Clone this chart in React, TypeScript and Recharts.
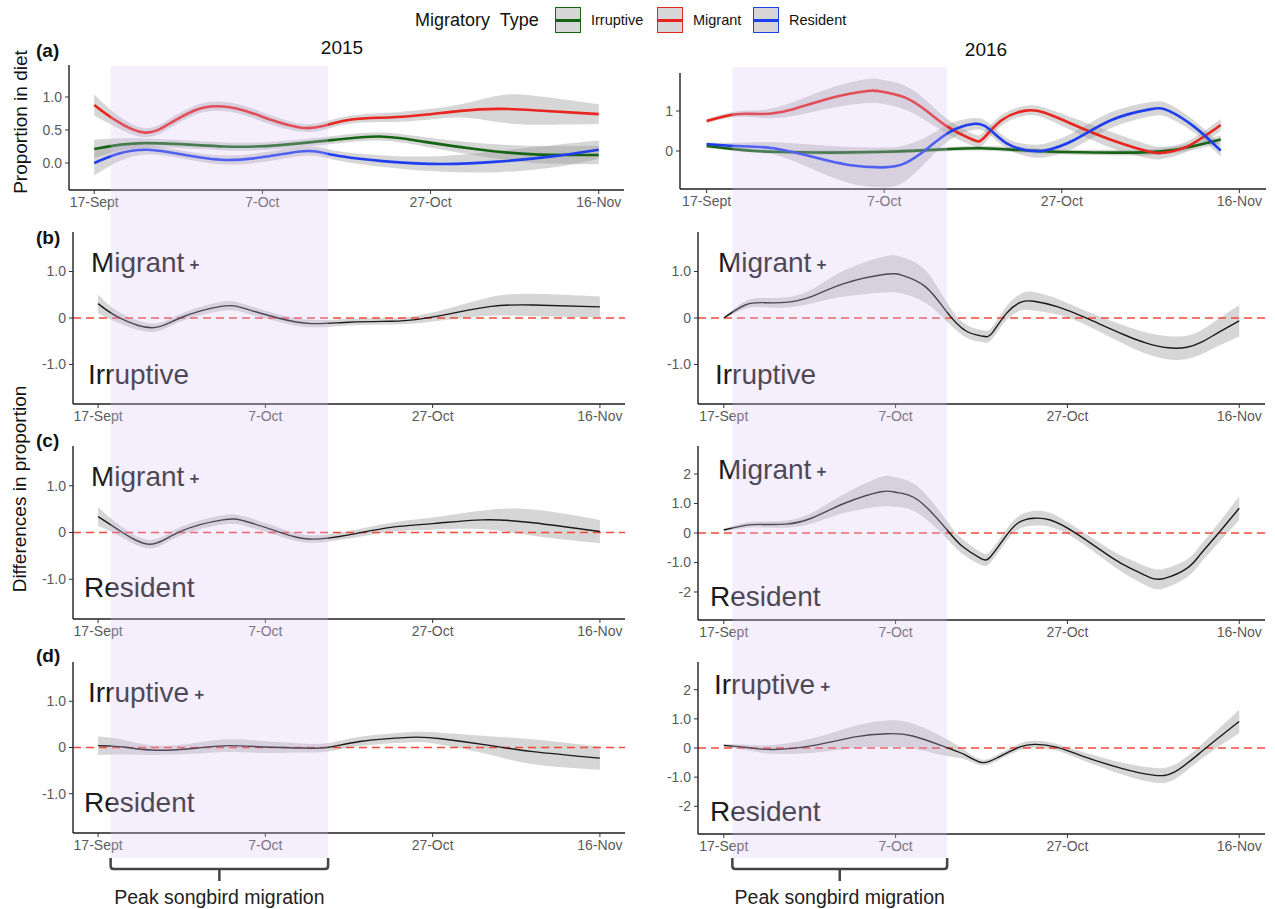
import { ComposedChart, Line, Area, XAxis, YAxis, ReferenceLine, ReferenceArea } from 'recharts';

const FONT = '"Liberation Sans", Arial, Helvetica, sans-serif';

// x axis = days after 17 Sept
const dateTicks = [0, 20, 40, 60];
const dateLabels = ['17-Sept', '7-Oct', '27-Oct', '16-Nov'];
const xDomain: [number, number] = [-3, 63];

const typeNames = ['Irruptive', 'Migrant', 'Resident'];
const typeColors = ['#146414', '#e8261f', '#1f3ef0'];

// peak songbird migration window (days)
const peak2015 = [1.5, 27.5];
const peak2016 = [1, 26];

// ---- (a) proportion in diet, 2015
const irr15Days = [0, 6, 15.5, 22, 28.5, 34, 39.3, 46, 52.3, 60];
const irr15Fit = [0.21, 0.3, 0.25, 0.27, 0.35, 0.4, 0.32, 0.2, 0.13, 0.12];
const irr15Ci = [0.14, 0.07, 0.06, 0.06, 0.06, 0.06, 0.07, 0.1, 0.13, 0.14];
const mig15Days = [0, 2.5, 6, 9, 12, 14.6, 17.7, 21.1, 24.6, 27.2, 30.6, 35, 39.3, 43.6, 48, 52.3, 60];
const mig15Fit = [0.88, 0.65, 0.46, 0.6, 0.8, 0.86, 0.8, 0.65, 0.535, 0.56, 0.66, 0.69, 0.73, 0.79, 0.82, 0.8, 0.74];
const mig15Ci = [0.16, 0.1, 0.07, 0.07, 0.07, 0.07, 0.07, 0.07, 0.06, 0.06, 0.06, 0.07, 0.08, 0.1, 0.2, 0.22, 0.15];
const res15Days = [0, 6.4, 15.5, 24.2, 28.5, 35, 41.5, 48, 54.5, 60];
const res15Fit = [0.0, 0.2, 0.045, 0.17, 0.12, 0.02, -0.015, 0.02, 0.1, 0.2];
const res15Ci = [0.19, 0.07, 0.07, 0.07, 0.07, 0.09, 0.12, 0.16, 0.17, 0.14];

// ---- (a) proportion in diet, 2016
const irr16Days = [0, 3.3, 7.5, 14, 20.2, 26.6, 30.9, 35.1, 39.4, 45.6, 52, 57.9];
const irr16Fit = [0.125, 0.04, -0.02, -0.04, -0.02, 0.04, 0.07, 0.025, -0.02, -0.04, 0.01, 0.29];
const irr16Ci = [0.05, 0.04, 0.05, 0.05, 0.05, 0.05, 0.06, 0.06, 0.06, 0.07, 0.08, 0.1];
const mig16Days = [0, 3.3, 6.3, 9.6, 13.9, 18.1, 19.8, 22.3, 24.9, 27.4, 30, 31.2, 33.3, 35.9, 38, 41.4, 45.6, 49.9, 51.5, 54.1, 57.9];
const mig16Fit = [0.75, 0.92, 0.925, 1.04, 1.32, 1.5, 1.48, 1.34, 0.98, 0.57, 0.28, 0.32, 0.78, 1.01, 0.96, 0.65, 0.275, -0.02, -0.04, 0.11, 0.65];
const mig16Ci = [0.05, 0.07, 0.1, 0.17, 0.25, 0.3, 0.3, 0.3, 0.25, 0.18, 0.15, 0.15, 0.13, 0.12, 0.13, 0.17, 0.2, 0.17, 0.15, 0.13, 0.15];
const res16Days = [0, 3.3, 7.5, 11.8, 16, 19.8, 22.3, 24.9, 27.4, 30, 31.7, 33.8, 35.9, 38, 41.4, 45.6, 49.9, 52, 54.9, 57.9];
const res16Fit = [0.175, 0.125, 0.07, -0.14, -0.35, -0.41, -0.31, 0.07, 0.48, 0.675, 0.57, 0.19, 0.025, 0.01, 0.275, 0.775, 1.04, 1.01, 0.61, 0.01];
const res16Ci = [0.04, 0.08, 0.15, 0.3, 0.45, 0.5, 0.45, 0.3, 0.2, 0.15, 0.14, 0.13, 0.15, 0.17, 0.2, 0.2, 0.18, 0.17, 0.15, 0.15];

// ---- (b) Migrant - Irruptive
const bDays15 = [0, 2.4, 6.4, 9.8, 14.7, 17.6, 21.5, 25.5, 30, 35, 38, 42, 47, 52, 60];
const bFit15 = [0.31, 0.02, -0.21, 0, 0.25, 0.2, 0, -0.12, -0.09, -0.07, -0.035, 0.09, 0.25, 0.28, 0.24];
const bCi15 = [0.2, 0.12, 0.09, 0.08, 0.1, 0.09, 0.08, 0.08, 0.07, 0.07, 0.08, 0.12, 0.2, 0.24, 0.22];
const bDays16 = [0, 2.5, 4.6, 7.2, 10.2, 14, 18.8, 20.9, 23.5, 26, 28.2, 30.1, 31.2, 32.9, 34.6, 36.1, 38.9, 42.3, 46.6, 49.2, 51.7, 53.9, 55.6, 57.5, 60];
const bFit16 = [0, 0.28, 0.33, 0.335, 0.46, 0.74, 0.94, 0.91, 0.67, 0.12, -0.28, -0.39, -0.33, 0.1, 0.34, 0.36, 0.24, -0.01, -0.36, -0.54, -0.64, -0.63, -0.52, -0.32, -0.06];
const bCi16 = [0.02, 0.08, 0.1, 0.11, 0.15, 0.28, 0.39, 0.39, 0.35, 0.2, 0.14, 0.13, 0.13, 0.15, 0.18, 0.2, 0.17, 0.15, 0.2, 0.23, 0.25, 0.25, 0.26, 0.29, 0.34];

// ---- (c) Migrant - Resident
const cDays15 = [0, 2.4, 6.1, 9.8, 14.9, 17.6, 21.5, 25.2, 30, 35, 40, 46, 52, 60];
const cFit15 = [0.34, 0.06, -0.25, 0.02, 0.27, 0.24, 0.02, -0.14, -0.05, 0.11, 0.19, 0.27, 0.21, 0.02];
const cCi15 = [0.2, 0.12, 0.09, 0.09, 0.1, 0.1, 0.09, 0.08, 0.08, 0.1, 0.13, 0.2, 0.28, 0.25];
const cDays16 = [0, 2.5, 4.6, 7.2, 10.2, 14, 18.3, 20, 22.6, 26, 27.8, 29.9, 31, 32.5, 34.2, 36.1, 38, 41, 45.3, 47.5, 49.6, 51.3, 53.9, 55.4, 56.9, 60];
const cFit16 = [0.1, 0.26, 0.29, 0.3, 0.5, 1.0, 1.4, 1.38, 1.12, 0.1, -0.46, -0.86, -0.82, -0.24, 0.33, 0.5, 0.44, -0.01, -0.86, -1.22, -1.51, -1.54, -1.2, -0.75, -0.24, 0.84];
const cCi16 = [0.05, 0.09, 0.1, 0.12, 0.18, 0.32, 0.5, 0.5, 0.45, 0.3, 0.25, 0.22, 0.2, 0.2, 0.22, 0.25, 0.24, 0.2, 0.25, 0.3, 0.33, 0.33, 0.3, 0.3, 0.32, 0.4];

// ---- (d) Irruptive - Resident
const dDays15 = [0, 3, 7, 12, 15.7, 20, 24, 27.4, 31.3, 37.2, 41, 47, 52, 60];
const dFit15 = [0.04, 0.01, -0.06, -0.01, 0.04, 0.01, -0.01, 0, 0.13, 0.22, 0.19, 0.04, -0.09, -0.23];
const dCi15 = [0.2, 0.16, 0.1, 0.12, 0.14, 0.13, 0.1, 0.09, 0.1, 0.11, 0.13, 0.2, 0.27, 0.25];
const dDays16 = [0, 2.9, 5.7, 10.5, 15.3, 19, 22, 25.8, 28.2, 30.1, 32, 34.4, 36.3, 38.7, 41.5, 46.3, 50, 52.5, 55.8, 60];
const dFit16 = [0.09, 0.01, -0.05, 0.09, 0.38, 0.49, 0.41, 0.03, -0.25, -0.5, -0.31, 0.03, 0.125, 0.03, -0.25, -0.7, -0.93, -0.82, -0.08, 0.91];
const dCi16 = [0.05, 0.1, 0.15, 0.25, 0.38, 0.45, 0.43, 0.3, 0.15, 0.1, 0.1, 0.12, 0.12, 0.12, 0.14, 0.2, 0.25, 0.25, 0.25, 0.4];

type Pt = { day: number; fit: number; band: [number, number] };

const smooth = (days: number[], fit: number[], ci: number[]): Pt[] =>
  days.map((d, i) => ({ day: d, fit: fit[i], band: [fit[i] - ci[i], fit[i] + ci[i]] }));

type Series = { data: Pt[]; color: string; width: number };

type PanelProps = {
  x: number;
  y: number;
  w: number;
  h: number;
  yDomain: [number, number];
  yTicks: number[];
  yLabels: string[];
  series: Series[];
  zeroLine?: boolean;
};

const YW = 50;
const XH = 30;
const PAD = 6;
const CURVE = 'natural';

function Panel({ x, y, w, h, yDomain, yTicks, yLabels, series, zeroLine }: PanelProps) {
  return (
    <div style={{ position: 'absolute', left: x - YW, top: y - PAD }}>
      <ComposedChart
        width={w + YW + PAD}
        height={h + PAD + XH}
        margin={{ top: PAD, right: PAD, bottom: 0, left: 0 }}
      >
        <XAxis
          type="number"
          dataKey="day"
          domain={xDomain}
          ticks={dateTicks}
          interval={0}
          allowDataOverflow
          height={XH}
          tickFormatter={(v) => dateLabels[dateTicks.indexOf(v)]}
          axisLine={{ stroke: '#1e1e1e', strokeWidth: 1.4 }}
          tickLine={{ stroke: '#333' }}
          tickSize={4}
          tickMargin={3}
          tick={{ fill: '#5a5a5a', fontSize: 14, fontFamily: FONT }}
        />
        <YAxis
          type="number"
          domain={yDomain}
          ticks={yTicks}
          interval={0}
          allowDataOverflow
          width={YW}
          tickFormatter={(v) => yLabels[yTicks.indexOf(v)]}
          axisLine={{ stroke: '#1e1e1e', strokeWidth: 1.4 }}
          tickLine={{ stroke: '#333' }}
          tickSize={4}
          tickMargin={3}
          tick={{ fill: '#5a5a5a', fontSize: 14, fontFamily: FONT }}
        />
        {series.map((s, i) => (
          <Area
            key={'band' + i}
            data={s.data}
            dataKey="band"
            type={CURVE}
            stroke="none"
            fill="#999999"
            fillOpacity={0.4}
            isAnimationActive={false}
          />
        ))}
        {zeroLine && <ReferenceLine y={0} stroke="#f5473b" strokeDasharray="8 5" strokeWidth={1.6} />}
        {series.map((s, i) => (
          <Line
            key={'fit' + i}
            data={s.data}
            dataKey="fit"
            type={CURVE}
            stroke={s.color}
            strokeWidth={s.width}
            dot={false}
            activeDot={false}
            isAnimationActive={false}
          />
        ))}
      </ComposedChart>
    </div>
  );
}

function Bracket(props: any) {
  const vb = props.viewBox;
  if (!vb) return null;
  const { x, y, width, height } = vb;
  const b = y + height;
  const mid = x + width / 2;
  const r = x + width;
  return (
    <g>
      <path
        d={`M${x},${b} L${x},${b + 8} Q${x},${b + 11} ${x + 3},${b + 11} L${r - 3},${b + 11} Q${r},${b + 11} ${r},${b + 8} L${r},${b}`}
        fill="none"
        stroke="#444"
        strokeWidth={2.5}
      />
      <path d={`M${mid},${b + 11} L${mid},${b + 23}`} stroke="#444" strokeWidth={2.5} />
      <text x={mid} y={b + 39} textAnchor="middle" dominantBaseline="central" fontSize={19.5} fontFamily={FONT} fill="#222">
        Peak songbird migration
      </text>
    </g>
  );
}

// lavender band laid over the whole column, like the original figure
function PeakOverlay({ x, w, top, bottom, window }: { x: number; w: number; top: number; bottom: number; window: number[] }) {
  const height = 909 - top;
  return (
    <div style={{ position: 'absolute', left: x, top, pointerEvents: 'none' }}>
      <ComposedChart
        width={w}
        height={height}
        data={dateTicks.map((d) => ({ day: d, v: 0.5 }))}
        margin={{ top: 0, right: 0, left: 0, bottom: height - (bottom - top) }}
      >
        <XAxis type="number" dataKey="day" domain={xDomain} hide allowDataOverflow />
        <YAxis type="number" domain={[0, 1]} hide allowDataOverflow />
        <Line dataKey="v" stroke="none" dot={false} activeDot={false} isAnimationActive={false} />
        <ReferenceArea
          x1={window[0]}
          x2={window[1]}
          y1={0}
          y2={1}
          fill="#d8c2f7"
          fillOpacity={0.27}
          stroke="none"
          ifOverflow="visible"
          label={<Bracket />}
        />
      </ComposedChart>
    </div>
  );
}

function Note({ x, y, text, plus }: { x: number; y: number; text: string; plus?: boolean }) {
  return (
    <div
      style={{
        position: 'absolute',
        left: x,
        top: y - 14,
        fontSize: 28,
        lineHeight: '28px',
        color: '#1a1a1a',
        whiteSpace: 'nowrap',
      }}
    >
      {text}
      {plus && <span style={{ fontSize: 17, fontWeight: 'bold', marginLeft: 5, verticalAlign: 'middle' }}>+</span>}
    </div>
  );
}

function Txt({ x, y, size, children, bold, anchor }: any) {
  return (
    <div
      style={{
        position: 'absolute',
        left: x,
        top: y - size / 2,
        fontSize: size,
        lineHeight: size + 'px',
        fontWeight: bold ? 'bold' : 'normal',
        color: '#111',
        whiteSpace: 'pre',
        transform: anchor === 'middle' ? 'translateX(-50%)' : undefined,
      }}
    >
      {children}
    </div>
  );
}

function VText({ x, y, children }: any) {
  return (
    <div
      style={{
        position: 'absolute',
        left: x,
        top: y,
        fontSize: 19,
        lineHeight: '19px',
        color: '#111',
        whiteSpace: 'nowrap',
        transform: 'translate(-50%, -50%) rotate(-90deg)',
      }}
    >
      {children}
    </div>
  );
}

const legendX = [555, 657, 753];

export default function App() {
  const a15: Series[] = [
    { data: smooth(irr15Days, irr15Fit, irr15Ci), color: typeColors[0], width: 2.6 },
    { data: smooth(mig15Days, mig15Fit, mig15Ci), color: typeColors[1], width: 2.6 },
    { data: smooth(res15Days, res15Fit, res15Ci), color: typeColors[2], width: 2.6 },
  ];
  const a16: Series[] = [
    { data: smooth(irr16Days, irr16Fit, irr16Ci), color: typeColors[0], width: 2.6 },
    { data: smooth(mig16Days, mig16Fit, mig16Ci), color: typeColors[1], width: 2.6 },
    { data: smooth(res16Days, res16Fit, res16Ci), color: typeColors[2], width: 2.6 },
  ];
  const diff = (d: number[], f: number[], c: number[]): Series[] => [{ data: smooth(d, f, c), color: '#1a1a1a', width: 1.4 }];

  const smallTicks = [-1, 0, 1];
  const smallLabels = ['-1.0', '0', '1.0'];
  const bigTicks = [-2, -1, 0, 1, 2];
  const bigLabels = ['-2', '-1.0', '0', '1.0', '2'];

  return (
    <div
      style={{
        position: 'absolute',
        left: 0,
        top: 0,
        width: 1275,
        height: 909,
        background: '#fff',
        overflow: 'hidden',
        fontFamily: FONT,
      }}
    >
      {/* legend */}
      <Txt x={415} y={20} size={18}>{'Migratory  Type'}</Txt>
      {typeNames.map((n, i) => (
        <div key={n}>
          <div
            style={{
              position: 'absolute',
              left: legendX[i],
              top: 7,
              width: 24,
              height: 24,
              background: '#d6d6d6',
              border: `1.5px solid ${typeColors[i]}`,
            }}
          >
            <div style={{ position: 'absolute', left: 0, right: 0, top: 10.5, height: 3, background: typeColors[i] }} />
          </div>
          <Txt x={legendX[i] + 36} y={20} size={14.5}>{n}</Txt>
        </div>
      ))}

      <Txt x={342} y={47} size={19} anchor="middle">2015</Txt>
      <Txt x={986} y={49} size={19} anchor="middle">2016</Txt>
      <Txt x={36} y={50} size={19} bold>(a)</Txt>
      <Txt x={36} y={237} size={19} bold>(b)</Txt>
      <Txt x={36} y={440} size={19} bold>(c)</Txt>
      <Txt x={36} y={655} size={19} bold>(d)</Txt>
      <VText x={20} y={122}>Proportion in diet</VText>
      <VText x={19} y={489}>Differences in proportion</VText>

      {/* (a) */}
      <Panel x={69} y={65} w={555} h={125} yDomain={[-0.41, 1.485]} yTicks={[0, 0.5, 1]} yLabels={['0.0', '0.5', '1.0']} series={a15} />
      <Panel x={680} y={73} w={586} h={116} yDomain={[-0.95, 1.95]} yTicks={[0, 1]} yLabels={['0', '1']} series={a16} />

      {/* (b) */}
      <Panel x={73} y={232} w={552} h={172} yDomain={[-1.85, 1.85]} yTicks={smallTicks} yLabels={smallLabels} series={diff(bDays15, bFit15, bCi15)} zeroLine />
      <Panel x={698} y={232} w={567} h={172} yDomain={[-1.85, 1.85]} yTicks={smallTicks} yLabels={smallLabels} series={diff(bDays16, bFit16, bCi16)} zeroLine />

      {/* (c) */}
      <Panel x={73} y={446} w={552} h={173} yDomain={[-1.85, 1.85]} yTicks={smallTicks} yLabels={smallLabels} series={diff(cDays15, cFit15, cCi15)} zeroLine />
      <Panel x={698} y={446} w={567} h={174} yDomain={[-2.95, 2.95]} yTicks={bigTicks} yLabels={bigLabels} series={diff(cDays16, cFit16, cCi16)} zeroLine />

      {/* (d) */}
      <Panel x={73} y={662} w={552} h={171} yDomain={[-1.85, 1.85]} yTicks={smallTicks} yLabels={smallLabels} series={diff(dDays15, dFit15, dCi15)} zeroLine />
      <Panel x={698} y={662} w={567} h={172} yDomain={[-2.95, 2.95]} yTicks={bigTicks} yLabels={bigLabels} series={diff(dDays16, dFit16, dCi16)} zeroLine />

      {/* panel annotations */}
      <Note x={91} y={263} text="Migrant" plus />
      <Note x={88} y={375} text="Irruptive" />
      <Note x={718} y={263} text="Migrant" plus />
      <Note x={715} y={375} text="Irruptive" />
      <Note x={91} y={477} text="Migrant" plus />
      <Note x={84} y={588} text="Resident" />
      <Note x={718} y={470} text="Migrant" plus />
      <Note x={710} y={597} text="Resident" />
      <Note x={88} y={693} text="Irruptive" plus />
      <Note x={84} y={803} text="Resident" />
      <Note x={714} y={685} text="Irruptive" plus />
      <Note x={710} y={812} text="Resident" />

      <PeakOverlay x={73} w={552} top={66} bottom={858} window={peak2015} />
      <PeakOverlay x={698} w={567} top={67} bottom={858} window={peak2016} />
    </div>
  );
}
